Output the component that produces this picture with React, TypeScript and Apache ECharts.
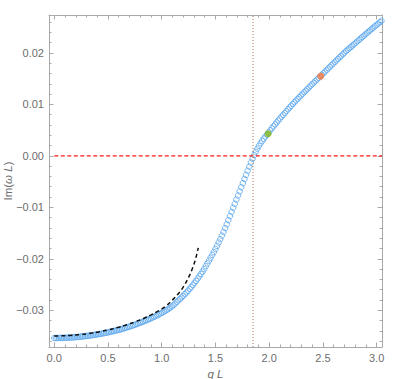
import { useEffect, useRef } from "react";
import * as echarts from "echarts";

// Blue numeric solution (q L, Im(ω L))
const qLow = [0.0, 0.015, 0.03, 0.045, 0.06, 0.075, 0.09, 0.105, 0.12, 0.135, 0.15, 0.165, 0.18, 0.195, 0.21, 0.225, 0.24, 0.255, 0.27, 0.285, 0.3, 0.315, 0.33, 0.345, 0.36, 0.375, 0.39, 0.405, 0.42, 0.435, 0.45, 0.465, 0.48, 0.495, 0.51, 0.525, 0.54, 0.555, 0.57, 0.585, 0.6, 0.615, 0.63, 0.645, 0.66, 0.675, 0.69, 0.705, 0.72, 0.735, 0.75, 0.765, 0.78, 0.795, 0.81, 0.825, 0.84, 0.855, 0.87, 0.885, 0.9, 0.915, 0.93, 0.945, 0.96, 0.975, 0.99, 1.005, 1.02, 1.035, 1.05, 1.065, 1.08, 1.095, 1.11, 1.125, 1.14, 1.155, 1.17, 1.185];
const imLow = [-0.0354, -0.0354, -0.0354, -0.03539, -0.03538, -0.03537, -0.03536, -0.03535, -0.03534, -0.03532, -0.0353, -0.03528, -0.03526, -0.03523, -0.03521, -0.03518, -0.03515, -0.03511, -0.03508, -0.03504, -0.035, -0.03496, -0.03492, -0.03488, -0.03483, -0.03478, -0.03473, -0.03468, -0.03462, -0.03457, -0.03451, -0.03445, -0.03439, -0.03432, -0.03426, -0.03419, -0.03412, -0.03404, -0.03397, -0.03389, -0.03382, -0.03373, -0.03364, -0.03355, -0.03345, -0.03335, -0.03325, -0.03315, -0.03304, -0.03293, -0.03282, -0.03271, -0.03259, -0.03247, -0.03235, -0.03223, -0.0321, -0.03197, -0.03184, -0.03171, -0.03157, -0.03143, -0.03128, -0.03113, -0.03097, -0.03081, -0.03064, -0.03047, -0.03029, -0.0301, -0.02991, -0.02971, -0.0295, -0.02926, -0.029, -0.02871, -0.0284, -0.0281, -0.0278, -0.0275];
const qMid = [1.2, 1.215, 1.23, 1.245, 1.26, 1.275, 1.29, 1.305, 1.32, 1.335, 1.35, 1.365, 1.38, 1.395, 1.41, 1.425, 1.44, 1.455, 1.47, 1.485, 1.5, 1.515, 1.53, 1.545, 1.56, 1.575, 1.59, 1.605, 1.62, 1.635, 1.65, 1.665, 1.68, 1.695, 1.71, 1.725, 1.74, 1.755, 1.77, 1.785, 1.8, 1.815, 1.83, 1.845, 1.86, 1.875, 1.89, 1.905, 1.92, 1.935, 1.95, 1.965, 1.98];
const imMid = [-0.0272, -0.0269, -0.02655, -0.0262, -0.02585, -0.0255, -0.0251, -0.0247, -0.0243, -0.02385, -0.0234, -0.02295, -0.0225, -0.022, -0.02145, -0.0209, -0.02035, -0.0198, -0.01925, -0.0187, -0.0181, -0.0175, -0.01685, -0.0162, -0.0155, -0.0148, -0.01405, -0.0133, -0.0125, -0.0117, -0.0109, -0.0101, -0.0093, -0.0085, -0.0077, -0.0069, -0.0061, -0.0053, -0.0045, -0.0037, -0.0029, -0.0021, -0.0013, -0.00055, 0.00015, 0.0008, 0.0014, 0.00195, 0.00245, 0.0029, 0.00335, 0.00375, 0.00415];
const qHigh = [1.995, 2.01, 2.025, 2.04, 2.055, 2.07, 2.085, 2.1, 2.115, 2.13, 2.145, 2.16, 2.175, 2.19, 2.205, 2.22, 2.235, 2.25, 2.265, 2.28, 2.295, 2.31, 2.325, 2.34, 2.355, 2.37, 2.385, 2.4, 2.415, 2.43, 2.445, 2.46, 2.475, 2.49, 2.505, 2.52, 2.535, 2.55, 2.565, 2.58, 2.595, 2.61, 2.625, 2.64, 2.655, 2.67, 2.685, 2.7, 2.715, 2.73, 2.745, 2.76, 2.775, 2.79, 2.805, 2.82, 2.835, 2.85, 2.865, 2.88, 2.895, 2.91, 2.925, 2.94, 2.955, 2.97, 2.985, 3.0, 3.015, 3.03, 3.045, 3.06];
const imHigh = [0.00455, 0.00495, 0.00535, 0.00575, 0.00613, 0.0065, 0.00688, 0.00725, 0.00762, 0.00798, 0.00834, 0.0087, 0.00905, 0.0094, 0.00975, 0.0101, 0.01043, 0.01075, 0.01108, 0.0114, 0.01172, 0.01203, 0.01235, 0.01266, 0.01298, 0.01329, 0.01361, 0.01392, 0.01423, 0.01454, 0.01485, 0.01515, 0.01546, 0.01576, 0.01607, 0.01638, 0.01669, 0.017, 0.01731, 0.01762, 0.01793, 0.01823, 0.01854, 0.01884, 0.01914, 0.01944, 0.01974, 0.02004, 0.02034, 0.02064, 0.0209, 0.02115, 0.02143, 0.0217, 0.02198, 0.02225, 0.02253, 0.0228, 0.02307, 0.02334, 0.02361, 0.02388, 0.02415, 0.02441, 0.02468, 0.02494, 0.0252, 0.02546, 0.02572, 0.02598, 0.02624, 0.0265];

// Black dashed small-q approximation
const qApprox = [0.0, 0.05, 0.1, 0.15, 0.2, 0.25, 0.3, 0.35, 0.4, 0.45, 0.5, 0.55, 0.6, 0.65, 0.7, 0.75, 0.8, 0.85, 0.9, 0.95, 1.0, 1.05, 1.1, 1.15, 1.2, 1.25, 1.28, 1.31, 1.34];
const imApprox = [-0.035, -0.03499, -0.03496, -0.0349, -0.03482, -0.03472, -0.0346, -0.03445, -0.03427, -0.03407, -0.03384, -0.03358, -0.0333, -0.03299, -0.03265, -0.03228, -0.03187, -0.03142, -0.03092, -0.03036, -0.02975, -0.029, -0.028, -0.0269, -0.0255, -0.0236, -0.0222, -0.0204, -0.0179];

// Highlighted points
const greenPoint = [1.99, 0.0043];
const orangePoint = [2.48, 0.0155];

// Reference lines
const zeroLineQ = [0, 3.05];
const criticalQ = 1.85;

// Axis ranges & ticks
const X_MIN = -0.049;
const X_MAX = 3.05;
const Y_MIN = -0.03715;
const Y_MAX = 0.02738;
const xMajor = [0, 0.5, 1, 1.5, 2, 2.5, 3];
const yMajor = [-0.03, -0.02, -0.01, 0, 0.01, 0.02];

function minorTicks(start: number, end: number, step: number, majors: number[]) {
  const out: number[] = [];
  const n = Math.round((end - start) / step);
  for (let i = 0; i <= n; i++) {
    const v = +(start + i * step).toFixed(6);
    if (!majors.some((m) => Math.abs(m - v) < step / 10)) out.push(v);
  }
  return out;
}

const xMinor = minorTicks(0, 3.0, 0.1, xMajor);
const yMinor = minorTicks(-0.036, 0.026, 0.002, yMajor);

const AXIS_COLOR = "#a9a9a9";
const LABEL_COLOR = "#6d6d6d";
const FONT = "Liberation Sans, Arial, sans-serif";

function zip(a: number[], b: number[]) {
  return a.map((v, i) => [v, b[i]]);
}

export default function App() {
  const ref = useRef<HTMLDivElement>(null);
  useEffect(() => {
    if (!ref.current) return;
    const chart = echarts.init(ref.current, undefined, { renderer: "svg" });

    const baseAxis = (pos: string, min: number, max: number, ticks: number[], len: number, showLine: boolean) => ({
      type: "value",
      position: pos,
      min,
      max,
      axisLine: { show: showLine, onZero: false, lineStyle: { color: AXIS_COLOR, width: 1 } },
      axisTick: { show: true, inside: true, length: len, customValues: ticks, lineStyle: { color: AXIS_COLOR, width: 1 } },
      axisLabel: { show: false },
      splitLine: { show: false },
    });

    const xLabelAxis: any = baseAxis("bottom", X_MIN, X_MAX, xMajor, 4.5, true);
    xLabelAxis.axisLabel = {
      show: true,
      customValues: xMajor,
      formatter: (v: number) => v.toFixed(1),
      color: LABEL_COLOR,
      fontSize: 11,
      fontFamily: FONT,
      margin: 5,
    };
    xLabelAxis.name = "q L";
    xLabelAxis.nameLocation = "middle";
    xLabelAxis.nameGap = 21;
    xLabelAxis.nameMoveOverlap = false;
    xLabelAxis.nameTextStyle = { color: LABEL_COLOR, fontSize: 11.5, fontFamily: FONT, fontStyle: "italic" };

    const yLabelAxis: any = baseAxis("left", Y_MIN, Y_MAX, yMajor, 4.5, true);
    yLabelAxis.axisLabel = {
      show: true,
      customValues: yMajor,
      formatter: (v: number) => (v < -1e-9 ? "\u2212" : "") + Math.abs(v).toFixed(2),
      color: LABEL_COLOR,
      fontSize: 11,
      fontFamily: FONT,
      margin: 5,
    };
    yLabelAxis.name = "{a|Im(}{b|ω L}{a|)}";
    yLabelAxis.nameLocation = "middle";
    yLabelAxis.nameGap = 35;
    yLabelAxis.nameMoveOverlap = false;
    yLabelAxis.nameTextStyle = {
      color: LABEL_COLOR,
      fontSize: 11.5,
      fontFamily: FONT,
      rich: {
        a: { color: LABEL_COLOR, fontSize: 11.5, fontFamily: FONT },
        b: { color: LABEL_COLOR, fontSize: 11.5, fontFamily: FONT, fontStyle: "italic" },
      },
    };

    const option: any = {
      animation: false,
      backgroundColor: "#ffffff",
      grid: { left: 49, right: 17, top: 15, bottom: 32, containLabel: false, outerBoundsMode: "none" },
      xAxis: [
        xLabelAxis,
        baseAxis("bottom", X_MIN, X_MAX, xMinor, 2.5, false),
        baseAxis("top", X_MIN, X_MAX, xMajor, 4.5, true),
        baseAxis("top", X_MIN, X_MAX, xMinor, 2.5, false),
      ],
      yAxis: [
        yLabelAxis,
        baseAxis("left", Y_MIN, Y_MAX, yMinor, 2.5, false),
        baseAxis("right", Y_MIN, Y_MAX, yMajor, 4.5, true),
        baseAxis("right", Y_MIN, Y_MAX, yMinor, 2.5, false),
      ],
      series: [
        {
          type: "scatter",
          name: "numeric",
          xAxisIndex: 0,
          yAxisIndex: 0,
          symbol: "circle",
          symbolSize: 5.5,
          itemStyle: { color: "rgba(0,0,0,0)", borderColor: "#5aa6ee", borderWidth: 1 },
          data: [...zip(qLow, imLow), ...zip(qMid, imMid), ...zip(qHigh, imHigh)],
          z: 2,
          clip: true,
        },
        {
          type: "line",
          name: "approx",
          xAxisIndex: 0,
          yAxisIndex: 0,
          showSymbol: false,
          smooth: true,
          lineStyle: { color: "#111111", width: 1.5, type: [4, 3] },
          data: zip(qApprox, imApprox),
          z: 3,
        },
        {
          type: "line",
          name: "zero",
          xAxisIndex: 0,
          yAxisIndex: 0,
          showSymbol: false,
          lineStyle: { color: "#ff1a1a", width: 1.3, type: [4, 2.5] },
          data: zeroLineQ.map((q) => [q, 0]),
          z: 4,
        },
        {
          type: "line",
          name: "critical",
          xAxisIndex: 0,
          yAxisIndex: 0,
          showSymbol: false,
          lineStyle: { color: "#b07a55", width: 1, type: [1, 2] },
          data: [
            [criticalQ, Y_MIN],
            [criticalQ, Y_MAX],
          ],
          z: 4,
        },
        {
          type: "scatter",
          name: "green",
          xAxisIndex: 0,
          yAxisIndex: 0,
          symbol: "circle",
          symbolSize: 7,
          itemStyle: { color: "#86b51c" },
          data: [greenPoint],
          z: 5,
        },
        {
          type: "scatter",
          name: "orange",
          xAxisIndex: 0,
          yAxisIndex: 0,
          symbol: "circle",
          symbolSize: 7,
          itemStyle: { color: "#f7793e" },
          data: [orangePoint],
          z: 5,
        },
      ],
    };
    chart.setOption(option);
    return () => chart.dispose();
  }, []);

  return (
    <div
      ref={ref}
      style={{ position: "fixed", left: 0, top: 0, width: 399, height: 379, background: "#fff" }}
    />
  );
}
